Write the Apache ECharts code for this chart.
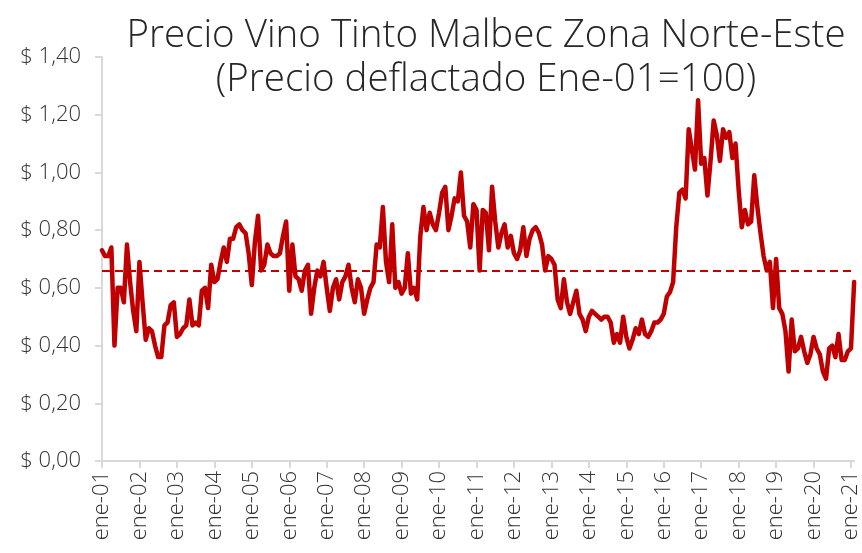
<!DOCTYPE html>
<html>
<head>
<meta charset="utf-8">
<script src="https://cdn.jsdelivr.net/npm/echarts@6/dist/echarts.min.js"></script>
<style>
html,body{margin:0;padding:0;background:#fff;}
#chart{width:862px;height:553px;}
</style>
</head>
<body>
<div id="chart"></div>
<script>
// --- Data (monthly, deflated price, from ene-01) ---
const meses = ['ene','feb','mar','abr','may','jun','jul','ago','sep','oct','nov','dic'];
const anios = ['01','02','03','04','05','06','07','08','09','10','11','12','13','14','15','16','17','18','19','20','21'];

const p2001 = [0.73, 0.71, 0.71, 0.74, 0.40, 0.60, 0.60, 0.55, 0.75, 0.62, 0.52, 0.45];
const p2002 = [0.69, 0.55, 0.42, 0.46, 0.45, 0.40, 0.36, 0.36, 0.47, 0.48, 0.54, 0.55];
const p2003 = [0.43, 0.44, 0.46, 0.47, 0.56, 0.47, 0.48, 0.47, 0.59, 0.60, 0.53, 0.68];
const p2004 = [0.62, 0.63, 0.69, 0.74, 0.69, 0.77, 0.77, 0.81, 0.82, 0.80, 0.79, 0.72];
const p2005 = [0.61, 0.76, 0.85, 0.66, 0.68, 0.75, 0.72, 0.71, 0.71, 0.72, 0.78, 0.83];
const p2006 = [0.59, 0.75, 0.64, 0.63, 0.59, 0.66, 0.68, 0.51, 0.60, 0.66, 0.64, 0.69];
const p2007 = [0.60, 0.52, 0.60, 0.63, 0.56, 0.62, 0.64, 0.68, 0.60, 0.55, 0.63, 0.60];
const p2008 = [0.51, 0.56, 0.60, 0.62, 0.75, 0.74, 0.88, 0.69, 0.62, 0.82, 0.60, 0.62];
const p2009 = [0.58, 0.60, 0.72, 0.58, 0.60, 0.56, 0.78, 0.88, 0.80, 0.86, 0.82, 0.80];
const p2010 = [0.86, 0.93, 0.95, 0.80, 0.85, 0.91, 0.90, 1.00, 0.85, 0.83, 0.74, 0.89];
const p2011 = [0.87, 0.66, 0.87, 0.86, 0.73, 0.95, 0.83, 0.74, 0.79, 0.82, 0.74, 0.78];
const p2012 = [0.72, 0.70, 0.73, 0.81, 0.71, 0.77, 0.80, 0.81, 0.79, 0.75, 0.66, 0.71];
const p2013 = [0.70, 0.68, 0.56, 0.53, 0.63, 0.55, 0.51, 0.55, 0.59, 0.51, 0.49, 0.45];
const p2014 = [0.50, 0.52, 0.51, 0.50, 0.49, 0.50, 0.50, 0.48, 0.41, 0.44, 0.41, 0.50];
const p2015 = [0.43, 0.39, 0.42, 0.46, 0.44, 0.49, 0.44, 0.43, 0.45, 0.48, 0.48, 0.49];
const p2016 = [0.51, 0.57, 0.585, 0.62, 0.81, 0.93, 0.94, 0.91, 1.15, 1.08, 1.01, 1.25];
const p2017 = [1.03, 1.05, 0.92, 1.04, 1.18, 1.13, 1.04, 1.15, 1.12, 1.14, 1.05, 1.10];
const p2018 = [0.94, 0.81, 0.87, 0.82, 0.83, 0.99, 0.88, 0.79, 0.71, 0.66, 0.69, 0.53];
const p2019 = [0.70, 0.53, 0.51, 0.45, 0.31, 0.49, 0.38, 0.39, 0.43, 0.38, 0.34, 0.37];
const p2020 = [0.43, 0.39, 0.37, 0.31, 0.285, 0.39, 0.40, 0.36, 0.44, 0.35, 0.35, 0.38];
const p2021 = [0.39, 0.62];

const promedio = 0.655; // dashed reference line

const yTicks = { min: 0, max: 1.4, interval: 0.2 };

const titulo = 'Precio Vino Tinto Malbec Zona Norte-Este\n(Precio deflactado Ene-01=100)';

// --- Build ---
const precio = [].concat(p2001,p2002,p2003,p2004,p2005,p2006,p2007,p2008,p2009,p2010,
  p2011,p2012,p2013,p2014,p2015,p2016,p2017,p2018,p2019,p2020,p2021);
const categorias = [];
for (let a = 0; a < anios.length; a++) {
  for (let m = 0; m < 12; m++) {
    if (categorias.length < precio.length) categorias.push(meses[m] + '-' + anios[a]);
  }
}

const chart = echarts.init(document.getElementById('chart'), null, {renderer: 'canvas'});
const font = '"Open Sans", Lato, sans-serif';
const gridLeft = 102, gridTop = 57, gridBottom = 92;
const step = 3.157;
const gridWidth = step * (precio.length - 1);

chart.setOption({
  animation: false,
  backgroundColor: '#ffffff',
  title: {
    text: titulo,
    left: 481,
    top: 9,
    textAlign: 'center',
    textStyle: {
      fontFamily: font,
      fontSize: 38.5,
      fontWeight: 300,
      color: '#262626',
      lineHeight: 44
    }
  },
  grid: { left: gridLeft, top: gridTop, bottom: gridBottom, width: gridWidth, containLabel: false },
  xAxis: {
    type: 'category',
    data: categorias,
    boundaryGap: false,
    axisLine: { show: true, lineStyle: { color: '#d9d9d9', width: 2 } },
    axisTick: {
      show: true, length: 7, alignWithLabel: true,
      interval: function (i) { return i % 12 === 0; },
      lineStyle: { color: '#d9d9d9', width: 2 }
    },
    axisLabel: {
      interval: function (i) { return i % 12 === 0; },
      rotate: 90,
      margin: 10,
      fontFamily: font,
      fontSize: 22,
      fontWeight: 300,
      color: '#333333'
    },
    splitLine: { show: false }
  },
  yAxis: {
    type: 'value',
    min: yTicks.min,
    max: yTicks.max,
    interval: yTicks.interval,
    axisLine: { show: true, lineStyle: { color: '#d9d9d9', width: 2 } },
    axisTick: { show: true, length: 7, lineStyle: { color: '#d9d9d9', width: 2 } },
    axisLabel: {
      margin: 21,
      fontFamily: font,
      fontSize: 22,
      fontWeight: 300,
      color: '#333333',
      formatter: function (v) { return '$ ' + v.toFixed(2).replace('.', ','); }
    },
    splitLine: { show: false }
  },
  series: [{
    type: 'line',
    data: precio,
    showSymbol: false,
    symbol: 'none',
    clip: false,
    lineStyle: { color: '#C00000', width: 4.5, cap: 'round', join: 'round' },
    markLine: {
      silent: true,
      symbol: 'none',
      label: { show: false },
      lineStyle: { color: '#C00000', width: 1.8, type: [8, 5] },
      data: [{ yAxis: promedio }]
    }
  }]
});
</script>
</body>
</html>
